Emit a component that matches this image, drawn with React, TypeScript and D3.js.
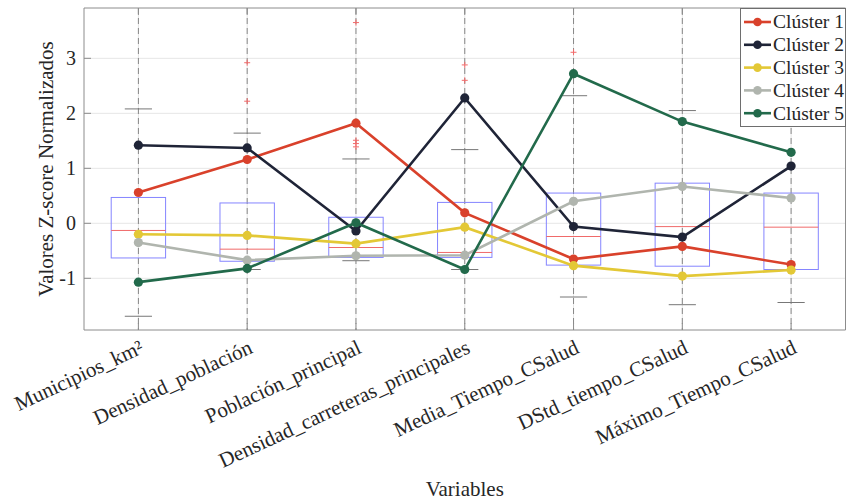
import React from 'react';
import * as d3 from 'd3';

const variables = [
  'Municipios_km²',
  'Densidad_población',
  'Población_principal',
  'Densidad_carreteras_principales',
  'Media_Tiempo_CSalud',
  'DStd_tiempo_CSalud',
  'Máximo_Tiempo_CSalud',
];

const clusterNames = ['Clúster 1', 'Clúster 2', 'Clúster 3', 'Clúster 4', 'Clúster 5'];
const clusterColors = ['#d9412b', '#1f2437', '#e3c836', '#b0b5ae', '#226a4b'];

const cluster1 = [0.56, 1.16, 1.82, 0.19, -0.65, -0.42, -0.75];
const cluster2 = [1.42, 1.37, -0.14, 2.28, -0.06, -0.25, 1.04];
const cluster3 = [-0.2, -0.22, -0.37, -0.07, -0.77, -0.96, -0.85];
const cluster4 = [-0.35, -0.67, -0.59, -0.58, 0.4, 0.67, 0.46];
const cluster5 = [-1.07, -0.82, 0.01, -0.84, 2.72, 1.85, 1.29];
const clusters = [cluster1, cluster2, cluster3, cluster4, cluster5];

// boxplot summary per variable
const boxQ1 = [-0.63, -0.69, -0.62, -0.62, -0.76, -0.78, -0.84];
const boxMedian = [-0.13, -0.47, -0.44, -0.53, -0.24, -0.06, -0.07];
const boxQ3 = [0.47, 0.37, 0.11, 0.38, 0.55, 0.73, 0.55];
const whiskerLow = [-1.69, -0.84, -0.68, -0.84, -1.34, -1.48, -1.44];
const whiskerHigh = [2.08, 1.64, 1.17, 1.34, 2.32, 2.05, 2.2];
const outliers = [[], [2.92, 2.22], [3.65, 1.51, 1.45, 1.39], [2.88, 2.6], [3.11], [], []];

const yTicks = [-1, 0, 1, 2, 3];

const W = 846;
const H = 501;
const margin = { left: 84, right: 0.5, top: 8, bottom: 171 };
const FONT = '"Liberation Serif", "Times New Roman", serif';

export default function App() {
  const x = d3.scaleLinear().domain([0.5, variables.length + 0.5]).range([margin.left, W - margin.right]);
  const y = d3.scaleLinear().domain([-1.94, 3.915]).range([H - margin.bottom, margin.top]);
  const [x0, x1] = x.range();
  const [yb, yt] = y.range();

  const line = d3.line<number>().x((_, i) => x(i + 1)).y(d => y(d));
  const boxHalf = x(0.25) - x(0);
  const capHalf = x(0.125) - x(0);

  return (
    <div>
      <style>{`body{margin:0}`}</style>
      <svg width={W} height={H} style={{ display: 'block', fontFamily: FONT }}>
        <rect x={0} y={0} width={W} height={H} fill="#fff" />

        {/* grid */}
        <g stroke="#e6e6e6" strokeWidth={1}>
          {yTicks.map(t => (
            <line key={'gy' + t} x1={x0} x2={x1} y1={y(t)} y2={y(t)} />
          ))}
          {variables.map((_, i) => (
            <line key={'gx' + i} x1={x(i + 1)} x2={x(i + 1)} y1={yt} y2={yb} />
          ))}
        </g>

        {/* boxplots */}
        {variables.map((_, i) => {
          const cx = x(i + 1);
          return (
            <g key={'box' + i}>
              <line x1={cx} x2={cx} y1={yt} y2={yb} stroke="#777" strokeWidth={1} strokeDasharray="6,4" opacity={0.85} />
              <line x1={cx - capHalf} x2={cx + capHalf} y1={y(whiskerHigh[i])} y2={y(whiskerHigh[i])} stroke="#777" strokeWidth={1} />
              <line x1={cx - capHalf} x2={cx + capHalf} y1={y(whiskerLow[i])} y2={y(whiskerLow[i])} stroke="#777" strokeWidth={1} />
              <rect x={cx - boxHalf} y={y(boxQ3[i])} width={boxHalf * 2} height={y(boxQ1[i]) - y(boxQ3[i])} fill="none" stroke="#8585ff" strokeWidth={1} />
              <line x1={cx - boxHalf} x2={cx + boxHalf} y1={y(boxMedian[i])} y2={y(boxMedian[i])} stroke="#f06a6a" strokeWidth={1} />
              {outliers[i].map((o, k) => (
                <g key={k} stroke="#f26a6a" strokeWidth={1}>
                  <line x1={cx - 3} x2={cx + 3} y1={y(o)} y2={y(o)} />
                  <line x1={cx} x2={cx} y1={y(o) - 3} y2={y(o) + 3} />
                </g>
              ))}
            </g>
          );
        })}

        {/* cluster lines */}
        {clusters.map((vals, c) => (
          <g key={'cl' + c}>
            <path d={line(vals) || ''} fill="none" stroke={clusterColors[c]} strokeWidth={2.6} />
            {vals.map((v, i) => (
              <circle key={i} cx={x(i + 1)} cy={y(v)} r={4.6} fill={clusterColors[c]} />
            ))}
          </g>
        ))}

        {/* axes frame */}
        <g stroke="#8c8c8c" strokeWidth={1} fill="none">
          <line x1={x0} x2={x0} y1={yt} y2={yb} />
          <line x1={x0} x2={x1} y1={yt} y2={yt} />
          <line x1={x0} x2={x1} y1={yb} y2={yb} />
          <line x1={x1} x2={x1} y1={yt} y2={yb} />
          {yTicks.map(t => (
            <line key={'ty' + t} x1={x0} x2={x0 + 7} y1={y(t)} y2={y(t)} />
          ))}
          {variables.map((_, i) => (
            <g key={'tx' + i}>
              <line x1={x(i + 1)} x2={x(i + 1)} y1={yb} y2={yb - 7} />
              <line x1={x(i + 1)} x2={x(i + 1)} y1={yt} y2={yt + 7} />
            </g>
          ))}
        </g>

        {/* y tick labels */}
        {yTicks.map(t => (
          <text key={'yl' + t} x={x0 - 8} y={y(t)} dy="0.35em" textAnchor="end" fontSize={20} fill="#262626">
            {t}
          </text>
        ))}

        {/* x tick labels */}
        {variables.map((v, i) => (
          <text
            key={'xl' + i}
            transform={`translate(${x(i + 1)},${yb + 8}) rotate(-25)`}
            textAnchor="end"
            dy="0.75em"
            fontSize={21}
            fill="#262626"
          >
            {v}
          </text>
        ))}

        <text x={(x0 + x1) / 2} y={496} textAnchor="middle" fontSize={21} fill="#262626">
          Variables
        </text>
        <text transform={`translate(53,${(yt + yb) / 2}) rotate(-90)`} textAnchor="middle" fontSize={21} fill="#262626">
          Valores Z-score Normalizados
        </text>

        {/* legend */}
        <g>
          <rect x={740.5} y={8.5} width={105} height={118} fill="#fff" stroke="#6e6e6e" strokeWidth={1} />
          {clusterNames.map((n, c) => {
            const ly = 22 + c * 22.8;
            return (
              <g key={'lg' + c}>
                <line x1={744} x2={771} y1={ly} y2={ly} stroke={clusterColors[c]} strokeWidth={2.6} />
                <circle cx={757.5} cy={ly} r={4.3} fill={clusterColors[c]} />
                <text x={773} y={ly} dy="0.33em" fontSize={19.5} fill="#262626">
                  {n}
                </text>
              </g>
            );
          })}
        </g>
      </svg>
    </div>
  );
}
